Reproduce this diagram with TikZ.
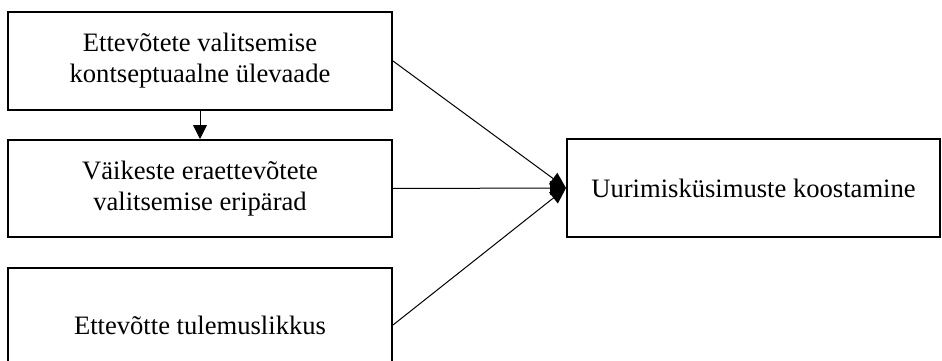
\documentclass[tikz,border=0pt]{standalone}
\usepackage{fontspec}
\setmainfont{Liberation Serif}
\usetikzlibrary{arrows.meta}
\tikzset{
  box/.style={draw, line width=2pt, align=center, inner sep=0pt,
    font=\fontsize{26.6}{31}\selectfont},
  link/.style={line width=1pt, -{Triangle[length=16pt,width=14pt]}},
}
\begin{document}
\begin{tikzpicture}[x=1pt,y=-1pt]
  \useasboundingbox (0,0) rectangle (942,361);
  \clip (0,0) rectangle (942,361);
  \fill[white] (0,0) rectangle (942,361);

  \node[box, minimum width=384pt, minimum height=98pt] (b1) at (200,61)
    {Ettevõtete valitsemise\\kontseptuaalne ülevaade};
  \node[box, minimum width=384pt, minimum height=97pt] (b2) at (200,188.5)
    {Väikeste eraettevõtete\\valitsemise eripärad};
  \node[box, minimum width=384pt, minimum height=114pt] (b3) at (200,325)
    {Ettevõtte tulemuslikkus};
  \node[box, minimum width=373pt, minimum height=98pt] (r) at (753.5,188)
    {Uurimisküsimuste koostamine};

  \draw[line width=1pt, -{Triangle[length=14pt,width=14pt]}] (b1.south) -- (b2.north);
  \draw[link] (b1.east) -- (r.west);
  \draw[link] (b2.east) -- (r.west);
  \draw[link] (b3.east) -- (r.west);
\end{tikzpicture}
\end{document}
